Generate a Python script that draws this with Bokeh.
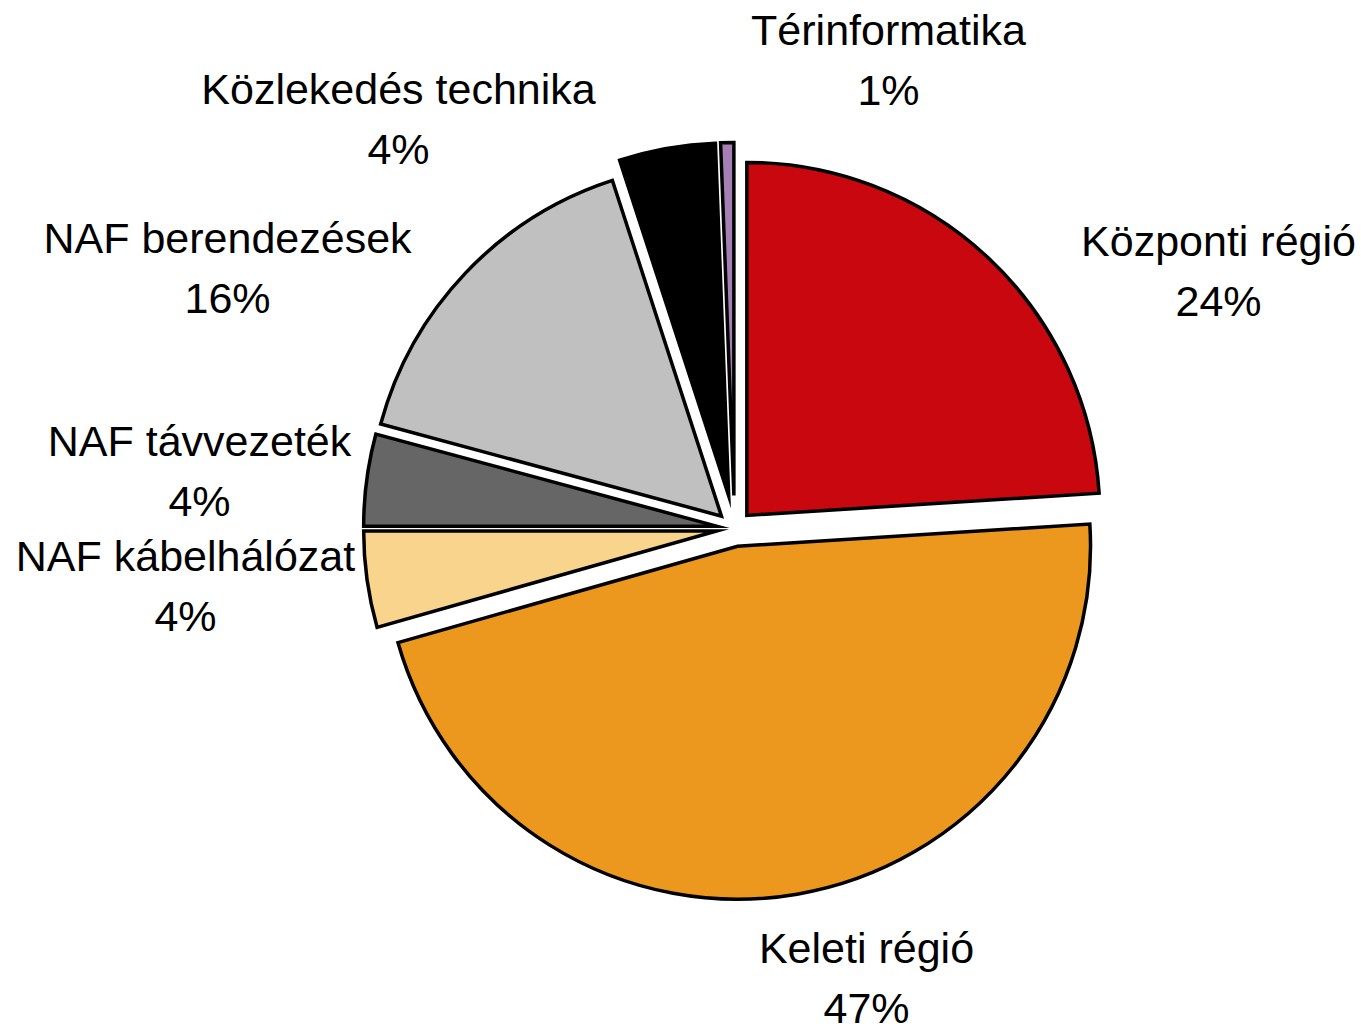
import math
from bokeh.plotting import figure
from bokeh.models import Range1d, ColumnDataSource
from bokeh.embed import file_html
from bokeh.resources import INLINE
from bokeh.core.properties import value

# ---- data ----
categories = ["Központi régió", "Keleti régió", "NAF kábelhálózat", "NAF távvezeték",
              "NAF berendezések", "Közlekedés technika", "Térinformatika"]
shares = [24.0, 46.6, 4.4, 4.2, 15.8, 4.4, 0.6]

# ---- style / layout ----
colors = ["#C8070F", "#EC971E", "#F8D48C", "#666666", "#C0C0C0", "#000000", "#A67FB4"]
W, H = 1361, 1028
CX, CY = 734, H - 528
R = 353
explode = [18, 18, 18, 18, 18, 33, 33]
# label anchor (x centre, baseline of first line in screen px from top)
label_anchor = [(1218, 240), (866, 947), (185, 555), (199, 440),
                (227, 237), (398, 88), (888, 29)]
LINE_GAP = 60

total = sum(shares)
xs, ys, starts, ends = [], [], [], []
cum = 0.0
for s, e in zip(shares, explode):
    t1 = cum / total * 360.0
    cum += s
    t2 = cum / total * 360.0
    tm = math.radians((t1 + t2) / 2)
    xs.append(CX + e * math.sin(tm))
    ys.append(CY + e * math.cos(tm))
    starts.append(math.radians(90 - t2))
    ends.append(math.radians(90 - t1))

src = ColumnDataSource(dict(x=xs, y=ys, start=starts, end=ends, color=colors))

p = figure(width=W, height=H, x_range=Range1d(0, W), y_range=Range1d(0, H),
           output_backend="svg", toolbar_location=None, min_border=0)
p.axis.visible = False
p.grid.visible = False
p.outline_line_color = None
p.background_fill_color = "white"
p.border_fill_color = "white"

p.wedge(x="x", y="y", radius=R, start_angle="start", end_angle="end",
        fill_color="color", line_color="black", line_width=3.5, line_join="miter",
        source=src)

names_x, names_y, pct_x, pct_y, pct_t = [], [], [], [], []
for (lx, ly), s in zip(label_anchor, shares):
    names_x.append(lx)
    names_y.append(H - ly)
    pct_x.append(lx)
    pct_y.append(H - ly - LINE_GAP)
    pct_t.append(f"{round(s / total * 100)}%")

p.text(x=names_x, y=names_y, text=categories, text_font=value("Liberation Sans"),
       text_font_size="43px", text_align="center", text_baseline="alphabetic",
       text_color="black")
p.text(x=pct_x, y=pct_y, text=pct_t, text_font=value("Liberation Sans"),
       text_font_size="43px", text_align="center", text_baseline="alphabetic",
       text_color="black")

open("out.html", "w").write(file_html(p, INLINE))
